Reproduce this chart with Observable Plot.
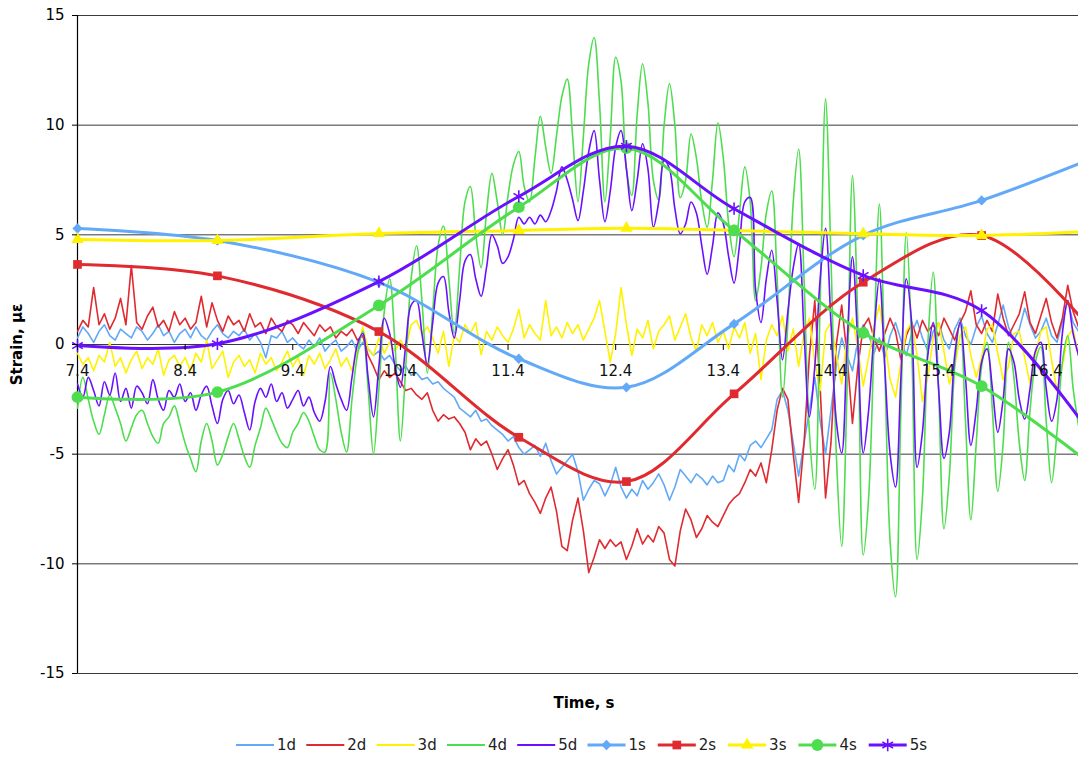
<!DOCTYPE html>
<html><head><meta charset="utf-8">
<script src="https://cdn.jsdelivr.net/npm/d3@7"></script>
<script src="https://cdn.jsdelivr.net/npm/@observablehq/plot@0.6"></script>
<style>
body{margin:0;background:#fff;font-family:"DejaVu Sans",Verdana,sans-serif;}
#chart{width:1078px;height:757px;overflow:hidden;background:#fff}
svg{display:block}
</style></head><body><div id="chart"></div>
<script>
// time grid of the dense ("d") records
const T0 = 7.4, DT = 0.05;
const d1 = [0.3,0.8,0.5,0.1,0.6,0.9,0.4,0.2,0.7,0.5,
 0.3,0.8,0.6,0.2,0.5,0.9,0.4,0.6,0.1,0.5,
 0.7,0.3,0.8,0.4,0.2,0.6,0.9,0.5,0.3,0.6,
 0.4,0.7,0.2,0.5,0.1,-0.6,0.4,0.3,0.6,0.1,
 0.3,0.0,-0.2,0.2,-0.1,0.3,-0.3,0.0,0.2,-0.3,
 -0.1,0.2,-0.3,0.1,-0.2,-0.5,-0.3,-0.7,-0.5,-0.9,
 -1.2,-1.0,-1.4,-1.3,-1.6,-1.5,-1.8,-1.7,-2.0,-2.2,
 -2.4,-2.9,-3.1,-3.3,-3.0,-3.5,-3.4,-3.7,-3.9,-4.1,
 -4.4,-4.2,-4.7,-5.0,-4.8,-4.6,-5.1,-4.5,-5.3,-5.9,
 -5.6,-5.3,-5.0,-5.8,-7.1,-6.6,-6.2,-6.35,-6.9,-6.4,
 -5.6,-6.5,-7.0,-6.6,-6.9,-6.2,-6.6,-6.3,-5.9,-6.4,
 -7.1,-6.5,-5.7,-6.0,-6.3,-5.9,-6.1,-6.4,-6.0,-6.3,
 -6.2,-5.5,-5.8,-5.0,-5.3,-4.6,-4.4,-4.7,-4.3,-3.9,
 -2.5,-2.1,-3.0,-4.5,-6.0,-4.5,-3.0,-1.5,-3.5,-5.0,
 -3.0,-1.0,0.3,-0.5,-1.2,0.2,0.9,0.5,-0.4,0.3,
 -0.6,0.4,1.0,0.2,-0.5,0.5,1.1,0.3,-0.3,0.6,
 1.0,0.2,-0.2,0.7,1.2,0.4,0.0,0.8,1.3,0.5,
 0.1,0.9,1.8,0.8,0.2,0.7,1.65,0.9,0.3,0.6,
 1.2,0.4,0.1,1.0,2.0,1.0,0.6];
const d2 = [0.6,1.1,0.8,2.6,0.9,1.4,0.7,1.2,2.1,0.9,
 3.6,1.0,0.7,1.3,1.7,0.8,1.1,0.6,1.5,0.9,
 1.2,0.7,1.0,2.2,0.8,1.9,1.1,0.6,1.3,0.9,
 1.1,0.6,1.4,0.8,1.0,0.5,1.2,0.8,0.6,1.1,
 0.9,0.5,1.0,0.7,0.4,0.9,0.6,0.8,0.3,0.6,
 0.4,0.7,0.2,0.4,-0.5,-1.0,-1.6,-1.2,-1.5,-1.3,
 -1.7,-2.1,-2.0,-2.3,-2.5,-2.2,-3.0,-3.5,-3.2,-3.4,
 -3.3,-3.6,-4.0,-4.8,-4.3,-4.6,-4.4,-5.0,-5.7,-5.2,
 -4.8,-5.5,-6.4,-6.2,-6.8,-7.2,-7.7,-7.0,-6.5,-7.6,
 -9.2,-9.4,-8.0,-7.0,-8.5,-10.4,-9.7,-8.9,-9.3,-8.9,
 -9.2,-9.0,-9.8,-9.2,-8.4,-9.1,-8.7,-9.0,-8.3,-8.6,
 -9.8,-10.1,-8.5,-7.5,-8.0,-8.8,-8.4,-7.8,-8.1,-8.3,
 -7.8,-7.3,-7.0,-6.8,-6.3,-5.7,-6.0,-5.4,-6.3,-4.8,
 -3.0,-2.0,-2.5,-5.0,-7.2,-4.5,-0.5,2.0,-2.0,-7.0,
 -4.5,0.0,1.8,-0.5,-3.6,-1.0,0.8,1.2,0.3,-0.3,
 0.5,1.2,0.6,-0.7,0.4,1.0,0.3,1.1,0.6,0.9,
 0.4,1.2,0.7,0.2,1.0,1.5,2.45,0.9,0.5,1.1,
 0.6,2.3,1.2,0.4,0.9,1.4,2.4,1.0,0.5,1.3,
 2.1,1.0,0.3,1.2,2.7,1.5,0.8];
const d3v = [-0.4,-0.9,-0.6,-1.2,-0.5,-0.8,0.1,-1.0,-0.6,-1.3,
 -0.7,-0.3,-1.1,-0.6,-0.9,-0.2,-1.4,-0.7,-0.5,-1.0,
 -0.6,-1.2,-0.4,-0.8,0.2,-1.1,-0.7,-0.3,-1.5,-0.8,
 -0.5,-1.0,-0.7,-1.3,-0.4,-0.9,-0.6,-1.2,-0.8,-0.3,
 -1.0,-0.6,-1.4,-0.5,-0.9,-0.4,-1.1,-0.7,-0.2,-1.0,
 -0.6,-1.2,-0.3,0.8,-0.2,-0.5,0.3,-0.4,0.1,-0.3,
 0.2,-0.2,0.9,1.1,0.5,0.8,0.3,-0.4,0.6,-1.0,
 0.4,0.1,0.9,0.5,1.0,-0.46,0.6,0.2,0.8,0.4,
 0.1,0.7,1.6,0.3,0.9,0.5,0.2,2.0,0.4,0.8,
 0.3,1.0,0.5,0.9,0.2,0.7,1.2,2.0,0.6,-0.8,
 0.5,2.6,0.9,-0.5,0.7,0.3,1.1,-0.2,0.6,0.9,
 1.3,0.2,0.8,1.4,0.3,-0.3,0.9,0.4,1.0,0.1,
 0.6,-0.2,0.8,0.3,1.0,-0.4,0.5,-1.6,0.2,0.9,
 0.4,1.3,-0.3,0.7,-1.0,0.5,1.2,-0.8,-2.1,0.6,
 1.0,-0.5,-1.8,0.3,1.2,-0.2,-1.9,-0.6,0.8,1.8,
 0.2,-1.6,-2.4,-0.8,0.6,1.0,-0.5,-2.6,-1.5,0.3,
 1.0,-0.3,-1.8,-1.0,0.4,0.8,-0.5,-1.5,-0.6,0.7,
 0.9,-0.4,-1.6,-1.0,0.5,0.6,-0.6,-1.8,-0.5,0.6,
 0.8,-0.7,-2.1,-1.0,0.4,0.7,-0.5];
const d4 = [-2.9,-1.5,-2.5,-3.5,-4.1,-3.2,-2.3,-2.9,-3.6,-4.4,
 -3.8,-3.2,-3.0,-3.6,-4.2,-4.5,-3.6,-3.3,-2.8,-3.6,
 -4.5,-5.2,-5.8,-4.4,-3.6,-4.4,-5.5,-5.0,-4.2,-3.6,
 -4.3,-5.1,-5.6,-4.6,-3.8,-2.9,-3.4,-4.0,-4.5,-4.7,
 -4.0,-3.6,-3.1,-3.5,-4.2,-4.8,-4.9,-1.3,-2.5,-4.0,
 -4.9,-2.5,-0.5,0.6,-2.0,-5.0,-2.0,1.5,3.0,0.0,
 -4.4,-1.0,3.0,4.5,2.0,-1.3,1.5,4.5,5.4,3.0,
 0.5,3.5,6.5,7.2,5.0,3.5,6.0,7.8,6.5,5.0,
 6.8,8.2,8.8,7.2,6.5,8.5,10.4,9.0,7.8,9.5,
 11.3,12.1,9.5,6.5,9.5,12.8,14.0,11.0,6.5,9.5,
 13.1,12.0,8.0,6.8,10.5,12.8,11.0,7.5,6.6,10.0,
 11.9,10.0,6.7,7.5,9.6,8.5,6.5,5.35,7.5,10.1,
 8.5,5.5,4.0,6.0,8.1,6.5,2.0,3.5,6.0,7.0,
 3.0,-2.4,1.0,6.5,8.9,3.0,-4.0,-6.6,2.0,11.2,
 4.0,-5.0,-9.2,-2.0,7.7,1.0,-9.6,-7.0,0.0,6.4,
 -1.0,-9.0,-11.5,-3.0,5.1,0.0,-9.8,-7.0,0.0,3.3,
 -2.0,-8.4,-6.0,-1.0,1.0,-3.5,-8.0,-4.5,-1.0,0.1,
 -3.0,-6.7,-4.5,0.1,-1.5,-4.5,-6.2,-3.0,-0.8,-0.1,
 -3.5,-6.3,-4.0,-0.8,0.4,-2.0,-3.7];
const d5 = [-1.8,-2.4,-1.5,-2.1,-2.8,-1.7,-2.3,-1.3,-2.6,-2.0,
 -2.9,-1.9,-2.2,-2.7,-1.6,-2.5,-3.0,-2.1,-2.4,-1.8,
 -2.6,-2.2,-3.0,-2.3,-1.9,-2.8,-3.6,-2.5,-2.1,-2.7,
 -2.3,-3.1,-3.9,-2.6,-2.0,-2.4,-1.8,-2.6,-2.2,-2.9,
 -2.5,-2.1,-2.8,-2.4,-3.1,-3.5,-2.6,-1.0,-1.8,-2.5,
 -3.0,-1.5,0.0,0.5,-1.5,-3.3,-1.0,1.2,0.5,-1.0,
 -1.95,0.0,1.8,2.0,0.5,-0.9,1.0,2.8,3.1,1.5,
 0.3,2.0,3.8,4.1,3.0,2.2,3.5,5.0,4.5,3.7,
 4.0,4.8,5.8,5.5,5.8,5.5,5.9,5.6,6.1,7.0,
 8.1,7.5,6.6,5.65,7.0,8.8,9.75,7.5,5.6,7.0,
 9.0,9.75,8.0,6.1,7.5,9.15,8.0,5.35,6.5,8.4,
 8.0,6.2,5.05,5.5,6.5,6.0,4.5,3.2,4.5,6.0,
 5.5,4.0,2.8,4.5,6.5,6.7,2.5,1.0,3.0,4.3,
 2.0,-0.7,1.5,3.5,4.6,0.5,-3.3,-1.0,3.0,5.3,
 1.0,-3.5,-4.95,0.0,4.0,0.0,-4.95,-3.0,0.5,3.0,
 -1.0,-5.0,-6.5,-1.5,3.0,1.0,-5.6,-4.0,-0.5,1.0,
 -2.0,-5.2,-4.0,-0.5,1.0,-1.5,-4.6,-3.0,-0.8,-0.2,
 -2.0,-4.0,-2.5,-0.2,-0.8,-2.5,-3.4,-2.0,-0.3,0.1,
 -2.0,-3.5,-2.5,0.5,2.0,0.5,-0.5];

// smoothed ("s") series at load positions
const sTimes = [7.4, 8.7, 10.2, 11.5, 12.5, 13.5, 14.7, 15.8, 17.0];
const s1 = [5.29, 4.74, 2.83, -0.65, -1.95, 0.94, 4.98, 6.57, 8.82];
const s2 = [3.65, 3.13, 0.59, -4.23, -6.25, -2.25, 2.84, 4.97, -0.43];
const s3 = [4.79, 4.74, 5.06, 5.2, 5.3, 5.2, 5.05, 4.97, 5.2];
const s4 = [-2.4, -2.17, 1.78, 6.26, 8.95, 5.2, 0.53, -1.9, -6.18];
const s5 = [-0.05, 0.03, 2.87, 6.75, 9.04, 6.19, 3.15, 1.55, -5.37];

const xTicks = [7.4, 8.4, 9.4, 10.4, 11.4, 12.4, 13.4, 14.4, 15.4, 16.4];
const yTicks = [-15, -10, -5, 0, 5, 10, 15];
const seriesNames = ["1d","2d","3d","4d","5d","1s","2s","3s","4s","5s"];
const colors = ["#62a9f7", "#df2a30", "#fff200", "#4edd4e", "#6a10ff"];
const X_MAX = 16.7;

const dSeries = [d1, d2, d3v, d4, d5].map(arr => arr.map((v, i) => ({t: +(T0 + i * DT).toFixed(2), v})));
const sSeries = [s1, s2, s3, s4, s5].map(arr => arr.map((v, i) => ({t: sTimes[i], v})));
const dCurves = ["linear", "linear", "linear", "catmull-rom", "catmull-rom"];

const symbols = [
  {symbol: "square", rotate: 45, r: 4.1, fill: true},
  {symbol: "square", rotate: 0, r: 4.9, fill: true},
  {symbol: "triangle", rotate: 0, r: 4.6, fill: true},
  {symbol: "circle", rotate: 0, r: 5.9, fill: true},
  {symbol: "asterisk", rotate: 0, r: 5.8, fill: false}
];

const marks = [
  Plot.ruleY(yTicks, {stroke: "#3a3a3a", strokeWidth: 1}),
  Plot.ruleX([7.4], {stroke: "#000", strokeWidth: 1.2})
];
dSeries.forEach((rows, k) => {
  marks.push(Plot.line(rows, {x: "t", y: "v", stroke: colors[k], strokeWidth: 1.6, curve: dCurves[k], clip: true}));
});
sSeries.forEach((rows, k) => {
  marks.push(Plot.line(rows, {x: "t", y: "v", stroke: colors[k], strokeWidth: 3, curve: "catmull-rom", clip: true}));
  const sy = symbols[k];
  const pts = rows.filter(d => d.t <= X_MAX);
  marks.push(Plot.dot(pts, sy.fill
    ? {x: "t", y: "v", symbol: sy.symbol, rotate: sy.rotate, r: sy.r, fill: colors[k], stroke: "none"}
    : {x: "t", y: "v", symbol: sy.symbol, r: sy.r, stroke: colors[k], strokeWidth: 1.6, fill: "none"}));
});
marks.push(
  Plot.ruleX(xTicks, {x: d => d, y1: 0, y2: -0.27, stroke: "#000"}),
  Plot.text(xTicks, {x: d => d, y: 0, text: d => d.toFixed(1), dy: 27, fontSize: 15, fill: "#111"}),
  Plot.axisY(yTicks, {tickSize: 5, tickPadding: 8, fontSize: 15, label: null, tickFormat: d => String(d), stroke: "#000"}),
  Plot.text(["Strain, με"], {frameAnchor: "left", dx: -60, rotate: -90, textAnchor: "middle", lineAnchor: "middle", fontWeight: "bold", fontSize: 15}),
  Plot.text(["Time, s"], {frameAnchor: "bottom", dx: 6, dy: 30, textAnchor: "middle", lineAnchor: "middle", fontWeight: "bold", fontSize: 15})
);

const chart = Plot.plot({
  width: 1078, height: 722,
  marginLeft: 77, marginRight: 0, marginTop: 15, marginBottom: 49,
  x: {domain: [7.4, X_MAX], axis: null},
  y: {domain: [-15, 15]},
  style: {fontFamily: "DejaVu Sans, Verdana, sans-serif", fontSize: "15px", background: "#fff", overflow: "visible"},
  marks
});
document.getElementById("chart").appendChild(chart);

// legend below the plot
const leg = d3.create("svg").attr("width", 1078).attr("height", 35)
  .style("font-family", "DejaVu Sans, Verdana, sans-serif").style("font-size", "15px");
const symMap = {square: d3.symbolSquare, triangle: d3.symbolTriangle, circle: d3.symbolCircle, asterisk: d3.symbolAsterisk};
seriesNames.forEach((name, i) => {
  const x0 = 236 + 70.3 * i, y = 23;
  const k = i % 5, isS = i >= 5;
  const g = leg.append("g");
  g.append("line").attr("x1", x0).attr("x2", x0 + 38).attr("y1", y).attr("y2", y)
    .attr("stroke", colors[k]).attr("stroke-width", isS ? 3 : 2);
  if (isS) {
    const sy = symbols[k];
    const size = Math.PI * sy.r * sy.r;
    g.append("path").attr("transform", `translate(${x0 + 19},${y}) rotate(${sy.rotate})`)
      .attr("d", d3.symbol(symMap[sy.symbol], size)())
      .attr("fill", sy.fill ? colors[k] : "none")
      .attr("stroke", sy.fill ? "none" : colors[k]).attr("stroke-width", 1.6);
  }
  g.append("text").attr("x", x0 + 41).attr("y", y).attr("dy", "0.35em").attr("fill", "#222").text(name);
});
document.getElementById("chart").appendChild(leg.node());
</script></body></html>
